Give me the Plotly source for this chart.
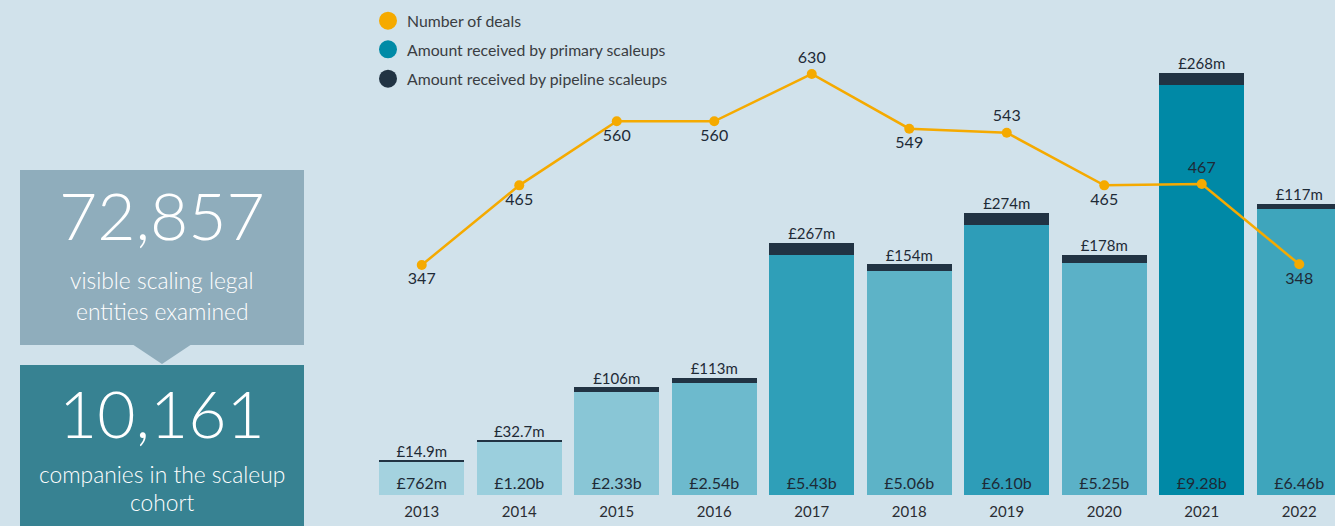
import plotly.graph_objects as go

# ---------------- data ----------------
years = ["2013", "2014", "2015", "2016", "2017", "2018", "2019", "2020", "2021", "2022"]
primary_m = [762, 1200, 2330, 2540, 5430, 5060, 6100, 5250, 9280, 6460]
primary_labels = ["£762m", "£1.20b", "£2.33b", "£2.54b", "£5.43b", "£5.06b", "£6.10b", "£5.25b", "£9.28b", "£6.46b"]
pipeline_m = [14.9, 32.7, 106, 113, 267, 154, 274, 178, 268, 117]
pipeline_labels = ["£14.9m", "£32.7m", "£106m", "£113m", "£267m", "£154m", "£274m", "£178m", "£268m", "£117m"]
deals = [347, 465, 560, 560, 630, 549, 543, 465, 467, 348]
deal_label_pos = ["bottom center", "bottom center", "bottom center", "bottom center", "top center",
                  "bottom center", "top center", "bottom center", "top center", "bottom center"]
legend_items = ["Number of deals", "Amount received by primary scaleups", "Amount received by pipeline scaleups"]
stat_numbers = ["72,857", "10,161"]
stat_lines_1 = ["visible scaling legal", "entities examined"]
stat_lines_2 = ["companies in the scaleup", "cohort"]

# ---------------- style ----------------
W, H = 1335, 526
ML, MR, MT, MB = 373, 0, 0, 31
PW, PH = W - ML - MR, H - MT - MB
bar_colors = ["#a4d2df", "#9bcfdd", "#89c6d6", "#6dbacd", "#2f9fb8",
              "#5db3c7", "#2e9db8", "#5bb1c7", "#0089a6", "#3ea5bc"]
pipe_color = "#213343"
line_color = "#f5aa00"
text_dark = "#1e2a36"
bg = "#d1e2eb"
FONT = "Lato"


def px_x(p):
    return (p - ML) / PW


def px_y(p):
    return (H - MB - p) / PH


totals = [a + b for a, b in zip(primary_m, pipeline_m)]

fig = go.Figure()
fig.add_trace(go.Bar(
    x=years, y=primary_m, marker=dict(color=bar_colors, line=dict(width=0)),
    text=primary_labels, textposition="inside", insidetextanchor="start",
    textangle=0, constraintext="none",
    textfont=dict(family=FONT, size=16, color=text_dark),
    showlegend=False, hoverinfo="skip"))
fig.add_trace(go.Bar(
    x=years, y=pipeline_m, marker=dict(color=pipe_color, line=dict(width=0)),
    showlegend=False, hoverinfo="skip"))
fig.add_trace(go.Scatter(
    x=years, y=totals, mode="text", text=pipeline_labels, textposition="top center",
    textfont=dict(family=FONT, size=15, color=text_dark),
    showlegend=False, hoverinfo="skip"))
fig.add_trace(go.Scatter(
    x=years, y=deals, yaxis="y2", mode="lines+markers+text",
    line=dict(color=line_color, width=2.5), marker=dict(color=line_color, size=10),
    text=[str(d) for d in deals], textposition=deal_label_pos,
    textfont=dict(family=FONT, size=16, color=text_dark),
    showlegend=False, hoverinfo="skip"))

shapes = []
annotations = []

# legend (custom)
legend_colors = [line_color, "#008aa6", pipe_color]
legend_y = [20.7, 49.3, 78.7]
for name, col, yy in zip(legend_items, legend_colors, legend_y):
    shapes.append(dict(type="circle", xref="paper", yref="paper",
                       x0=px_x(379), x1=px_x(397), y0=px_y(yy - 9), y1=px_y(yy + 9),
                       fillcolor=col, line=dict(width=0)))
    annotations.append(dict(xref="paper", yref="paper", x=px_x(405), y=px_y(yy),
                            xanchor="left", yanchor="middle", showarrow=False, text=name,
                            font=dict(family=FONT, size=15.8, color="#3a3d42")))

# left stat boxes
shapes.append(dict(type="rect", xref="paper", yref="paper",
                   x0=px_x(20), x1=px_x(304), y0=px_y(170), y1=px_y(345),
                   fillcolor="#8fadbc", line=dict(width=0), layer="below"))
shapes.append(dict(type="path", xref="paper", yref="paper",
                   path=f"M {px_x(132)} {px_y(344)} L {px_x(192)} {px_y(344)} L {px_x(162)} {px_y(364)} Z",
                   fillcolor="#8fadbc", line=dict(width=0), layer="below"))
shapes.append(dict(type="rect", xref="paper", yref="paper",
                   x0=px_x(20), x1=px_x(304), y0=px_y(365), y1=px_y(530),
                   fillcolor="#378292", line=dict(width=0), layer="below"))


def stat_text(txt, py, size):
    annotations.append(dict(xref="paper", yref="paper", x=px_x(162), y=px_y(py),
                            xanchor="center", yanchor="middle", showarrow=False, text=txt,
                            font=dict(family=FONT, size=size, color="white", weight=300)))


stat_text(stat_numbers[0], 214, 66)
stat_text(stat_lines_1[0], 280, 22.8)
stat_text(stat_lines_1[1], 311, 22.8)
stat_text(stat_numbers[1], 412, 66)
stat_text(stat_lines_2[0], 474, 22.8)
stat_text(stat_lines_2[1], 502, 22.8)

px_per_m = 0.04423
px_per_deal = 0.6749
y_top = PH / px_per_m
y2_low = 347 - (PH - 265) / px_per_deal
y2_high = 347 + 265 / px_per_deal

fig.update_layout(
    width=W, height=H, margin=dict(l=ML, r=MR, t=MT, b=MB),
    paper_bgcolor=bg, plot_bgcolor="rgba(0,0,0,0)",
    barmode="stack", bargap=0.128,
    font=dict(family=FONT, color=text_dark),
    xaxis=dict(type="category", range=[-0.5, -0.5 + PW / 97.5], showgrid=False,
               zeroline=False, showline=False, ticks="",
               tickfont=dict(family=FONT, size=15, color="#2a2d33"), ticklabelstandoff=6),
    yaxis=dict(range=[0, y_top], visible=False, showgrid=False, zeroline=False),
    yaxis2=dict(range=[y2_low, y2_high], overlaying="y", visible=False,
                showgrid=False, zeroline=False),
    shapes=shapes, annotations=annotations,
)

fig.write_html("out.html", config={"displayModeBar": False},
               post_script="document.body.style.margin='0';document.body.style.overflow='hidden';")
